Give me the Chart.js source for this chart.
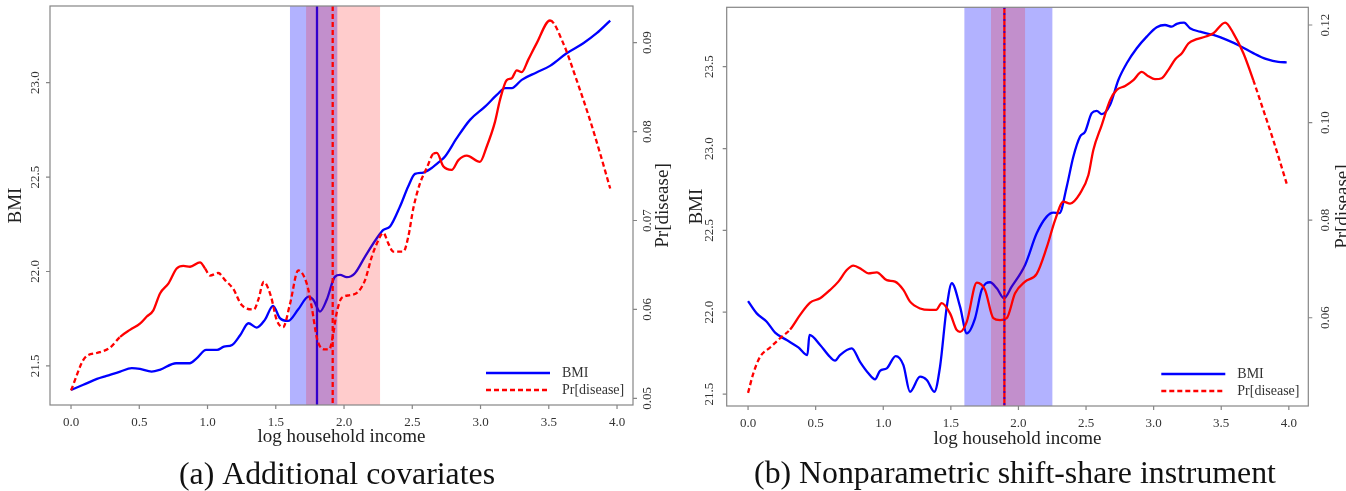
<!DOCTYPE html>
<html>
<head>
<meta charset="utf-8">
<script src="https://cdn.jsdelivr.net/npm/chart.js@4.4.1/dist/chart.umd.min.js"></script>
<style>
  html, body { margin: 0; padding: 0; background: #fff; }
  #wrap { position: relative; width: 1346px; height: 491px; overflow: hidden; }
  .panel { position: absolute; top: 0; width: 673px; height: 491px; }
</style>
</head>
<body>
<div id="wrap">
  <div class="panel" style="left:0"><canvas id="chartA" width="673" height="491"></canvas></div>
  <div class="panel" style="left:673px"><canvas id="chartB" width="673" height="491"></canvas></div>
</div>
<script>
// — tick labels —
const xTicks = [0, 0.5, 1, 1.5, 2, 2.5, 3, 3.5, 4];
const bmiTicksA = [21.5, 22, 22.5, 23];
const prTicksA = [0.05, 0.06, 0.07, 0.08, 0.09];
const bmiTicksB = [21.5, 22, 22.5, 23, 23.5];
const prTicksB = [0.06, 0.08, 0.10, 0.12];

// — (a) additional covariates —
const bmiIncomeA = [0, 0.09, 0.19, 0.26, 0.36, 0.445, 0.505, 0.59, 0.65, 0.77, 0.87, 0.92, 0.99, 1.07, 1.12, 1.18,
  1.24, 1.30, 1.36, 1.42, 1.48, 1.53, 1.59, 1.665, 1.74, 1.775, 1.824, 1.873, 1.934, 1.971, 2.02, 2.08, 2.154,
  2.24, 2.288, 2.337, 2.41, 2.47, 2.52, 2.58, 2.64, 2.70, 2.74, 2.826, 2.923, 3.033, 3.119, 3.18, 3.229, 3.302,
  3.41, 3.509, 3.631, 3.753, 3.851, 3.95];
const bmiA = [21.373, 21.400, 21.431, 21.447, 21.470, 21.488, 21.484, 21.470, 21.479, 21.514, 21.514, 21.540,
  21.585, 21.585, 21.602, 21.611, 21.664, 21.726, 21.703, 21.744, 21.818, 21.753, 21.738, 21.800, 21.867, 21.850,
  21.788, 21.850, 21.973, 21.982, 21.970, 21.991, 22.079, 22.176, 22.220, 22.238, 22.344, 22.450, 22.517, 22.524,
  22.547, 22.582, 22.609, 22.706, 22.803, 22.873, 22.935, 22.971, 22.971, 23.015, 23.054, 23.089, 23.156, 23.209,
  23.262, 23.329];
const prIncomeA = [0, 0.103, 0.188, 0.286, 0.359, 0.432, 0.505, 0.555, 0.603, 0.652, 0.713, 0.774, 0.823, 0.872,
  0.945, 0.982, 1.018, 1.079, 1.128, 1.189, 1.25, 1.34, 1.372, 1.412, 1.464, 1.507, 1.553, 1.604, 1.665, 1.727,
  1.763, 1.804, 1.861, 1.892, 1.917, 1.946, 1.983, 2.044, 2.105, 2.154, 2.203, 2.24, 2.288, 2.325, 2.361, 2.435,
  2.471, 2.508, 2.557, 2.606, 2.654, 2.68, 2.727, 2.789, 2.838, 2.899, 2.996, 3.045, 3.106, 3.143, 3.192, 3.229,
  3.265, 3.302, 3.35, 3.41, 3.509, 3.607, 3.704, 3.802, 3.875, 3.95];
const prA = [0.0509, 0.0546, 0.0551, 0.0557, 0.0569, 0.0577, 0.0584, 0.0592, 0.0599, 0.0618, 0.0629, 0.0646,
  0.0649, 0.0648, 0.0653, 0.0646, 0.0638, 0.0641, 0.0633, 0.0623, 0.0605, 0.0600, 0.0611, 0.0631, 0.0615, 0.0588,
  0.0580, 0.0606, 0.0644, 0.0629, 0.0603, 0.0566, 0.0555, 0.0555, 0.0569, 0.0596, 0.0613, 0.0616, 0.0620, 0.0633,
  0.0659, 0.0674, 0.0686, 0.0674, 0.0665, 0.0665, 0.0682, 0.0714, 0.0742, 0.0759, 0.0775, 0.0776, 0.0761, 0.0757,
  0.0768, 0.0773, 0.0766, 0.0783, 0.0811, 0.0836, 0.0858, 0.0860, 0.0869, 0.0867, 0.0881, 0.0899, 0.0925, 0.0899,
  0.0858, 0.0813, 0.0776, 0.0736];
const bmiBandA = [1.604, 1.951];
const prBandA = [1.722, 2.264];
const bmiCutA = 1.802;
const prCutA = 1.917;

// — (b) nonparametric shift-share instrument —
const bmiIncomeB = [0, 0.064, 0.138, 0.20, 0.286, 0.372, 0.439, 0.454, 0.533, 0.594, 0.644, 0.68, 0.767, 0.828,
  0.89, 0.939, 0.976, 1.026, 1.092, 1.149, 1.198, 1.272, 1.322, 1.378, 1.42, 1.47, 1.507, 1.568, 1.618, 1.679,
  1.728, 1.79, 1.84, 1.893, 1.95, 2.049, 2.135, 2.209, 2.258, 2.303, 2.357, 2.406, 2.456, 2.493, 2.542, 2.579,
  2.616, 2.678, 2.739, 2.801, 2.875, 2.949, 3.023, 3.084, 3.134, 3.171, 3.225, 3.269, 3.343, 3.442, 3.541, 3.639,
  3.737, 3.836, 3.922, 3.984];
const bmiB = [22.068, 21.993, 21.942, 21.875, 21.830, 21.785, 21.738, 21.861, 21.800, 21.738, 21.704, 21.738,
  21.779, 21.697, 21.627, 21.590, 21.642, 21.657, 21.732, 21.677, 21.514, 21.606, 21.586, 21.514, 21.667, 22.034,
  22.177, 22.034, 21.871, 21.963, 22.136, 22.183, 22.146, 22.085, 22.156, 22.289, 22.482, 22.584, 22.608, 22.605,
  22.767, 22.950, 23.073, 23.103, 23.216, 23.230, 23.210, 23.267, 23.419, 23.521, 23.613, 23.684, 23.741, 23.755,
  23.745, 23.762, 23.769, 23.735, 23.714, 23.694, 23.664, 23.627, 23.583, 23.546, 23.529, 23.527];
const prIncomeB = [0, 0.039, 0.089, 0.163, 0.237, 0.311, 0.385, 0.459, 0.533, 0.607, 0.668, 0.73, 0.779, 0.841,
  0.89, 0.952, 1.026, 1.087, 1.149, 1.198, 1.272, 1.346, 1.391, 1.432, 1.494, 1.543, 1.568, 1.618, 1.692, 1.753,
  1.814, 1.864, 1.913, 1.975, 2.049, 2.135, 2.209, 2.271, 2.332, 2.382, 2.456, 2.517, 2.554, 2.616, 2.678, 2.727,
  2.789, 2.85, 2.912, 2.961, 3.01, 3.06, 3.109, 3.16, 3.209, 3.257, 3.319, 3.38, 3.442, 3.529, 3.59, 3.664, 3.737,
  3.811, 3.885, 3.984];
const prB = [0.0446, 0.0486, 0.0520, 0.0539, 0.0558, 0.0576, 0.0606, 0.0631, 0.0640, 0.0657, 0.0674, 0.0698,
  0.0707, 0.0699, 0.0691, 0.0693, 0.0677, 0.0674, 0.0657, 0.0633, 0.0619, 0.0616, 0.0616, 0.0630, 0.0609, 0.0575,
  0.0571, 0.0592, 0.0672, 0.0657, 0.0599, 0.0595, 0.0599, 0.0650, 0.0674, 0.0690, 0.0744, 0.0800, 0.0838, 0.0834,
  0.0855, 0.0892, 0.0944, 0.0995, 0.1046, 0.1067, 0.1075, 0.1087, 0.1104, 0.1095, 0.1089, 0.1091, 0.1108, 0.1130,
  0.1142, 0.1162, 0.1171, 0.1176, 0.1183, 0.1205, 0.1183, 0.1142, 0.1087, 0.1026, 0.0964, 0.0875];
const bmiBandB = [1.600, 2.251];
const prBandB = [1.797, 2.049];
const bmiCutB = 1.896;
const prCutB = 1.896;

const SERIF = '"Liberation Serif", "Times New Roman", serif';
const BLUE = '#0000ff', RED = '#ff0000';
const DASH = [5, 3];

function pts(xs, ys) { return xs.map((x, i) => ({ x: x, y: ys[i] })); }

function vline(ctx, a, xs, l) {
  const x = xs.getPixelForValue(l.at);
  ctx.save();
  ctx.strokeStyle = l.color;
  ctx.lineWidth = l.width;
  ctx.setLineDash(l.dash || []);
  ctx.beginPath();
  ctx.moveTo(x, a.top);
  ctx.lineTo(x, a.bottom);
  ctx.stroke();
  ctx.restore();
}

function vtext(ctx, txt, x, y) {
  ctx.save();
  ctx.translate(x, y);
  ctx.rotate(-Math.PI / 2);
  ctx.fillText(txt, 0, 0);
  ctx.restore();
}

// bands, cut lines, frame, axes text, legend, caption
function makeDecor(cfg) {
  return {
    id: 'decor',
    afterDatasetDraw(chart, args) {
      if (chart.data.datasets[args.index].label !== 'BMI') return;
      const ctx = chart.ctx, a = chart.chartArea, xs = chart.scales.x;
      cfg.lines.filter(l => l.under).forEach(l => vline(ctx, a, xs, l));
      ctx.save();
      cfg.bands.forEach(b => {
        const x0 = xs.getPixelForValue(b.range[0]), x1 = xs.getPixelForValue(b.range[1]);
        ctx.fillStyle = b.color;
        ctx.fillRect(x0, a.top, x1 - x0, a.bottom - a.top);
      });
      ctx.restore();
    },
    afterDatasetsDraw(chart) {
      const ctx = chart.ctx, a = chart.chartArea, xs = chart.scales.x;
      cfg.lines.filter(l => !l.under).forEach(l => vline(ctx, a, xs, l));
    },
    afterDraw(chart) {
      const ctx = chart.ctx, a = chart.chartArea, s = chart.scales;
      const midY = (a.top + a.bottom) / 2, midX = (a.left + a.right) / 2;
      ctx.save();
      // frame
      ctx.strokeStyle = '#858585';
      ctx.lineWidth = 1.2;
      ctx.strokeRect(a.left, a.top, a.right - a.left, a.bottom - a.top);

      // tick marks
      ctx.beginPath();
      xTicks.forEach(v => { const p = s.x.getPixelForValue(v); ctx.moveTo(p, a.bottom); ctx.lineTo(p, a.bottom + 4); });
      cfg.bmiTicks.forEach(v => { const p = s.y.getPixelForValue(v); ctx.moveTo(a.left, p); ctx.lineTo(a.left - 4, p); });
      cfg.prTicks.forEach(v => { const p = s.y1.getPixelForValue(v); ctx.moveTo(a.right, p); ctx.lineTo(a.right + 4, p); });
      ctx.stroke();

      // tick labels
      ctx.fillStyle = '#333';
      ctx.font = '13px ' + SERIF;
      ctx.textAlign = 'center';
      ctx.textBaseline = 'middle';
      xTicks.forEach(v => ctx.fillText(v.toFixed(1), s.x.getPixelForValue(v), a.bottom + 18));
      cfg.bmiTicks.forEach(v => vtext(ctx, v.toFixed(1), a.left - cfg.leftOff, s.y.getPixelForValue(v)));
      cfg.prTicks.forEach(v => vtext(ctx, v.toFixed(2), a.right + cfg.rightOff, s.y1.getPixelForValue(v)));

      // axis titles
      ctx.fillStyle = '#222';
      ctx.font = '19px ' + SERIF;
      ctx.fillText('log household income', midX, a.bottom + cfg.xTitleOff);
      vtext(ctx, 'BMI', a.left - cfg.bmiTitleOff, midY);
      vtext(ctx, 'Pr[disease]', a.right + cfg.prTitleOff, midY);

      // legend
      const ds = chart.data.datasets;
      const lx = a.right - 147, tx = a.right - 71;
      [[ds[0], a.bottom - 32], [ds[1], a.bottom - 15]].forEach(([d, y]) => {
        ctx.save();
        ctx.strokeStyle = d.borderColor;
        ctx.lineWidth = 2.3;
        ctx.setLineDash(d.borderDash || []);
        ctx.beginPath();
        ctx.moveTo(lx, y);
        ctx.lineTo(lx + 64, y);
        ctx.stroke();
        ctx.restore();
      });
      ctx.fillStyle = '#333';
      ctx.font = '14px ' + SERIF;
      ctx.textAlign = 'left';
      ctx.fillText(ds[0].label, tx, a.bottom - 32);
      ctx.fillText(ds[1].label, tx, a.bottom - 15);

      // caption
      ctx.fillStyle = '#111';
      ctx.font = '31.8px ' + SERIF;
      ctx.textAlign = 'center';
      ctx.textBaseline = 'alphabetic';
      ctx.fillText(cfg.caption, cfg.captionX, cfg.captionY);
      ctx.restore();
    }
  };
}

function makeChart(id, p) {
  return new Chart(document.getElementById(id), {
    type: 'line',
    data: {
      datasets: [{
        label: 'BMI',
        data: pts(p.bmiX, p.bmi),
        yAxisID: 'y',
        borderColor: BLUE,
        borderWidth: 2.3,
        pointRadius: 0,
        cubicInterpolationMode: 'monotone',
        order: 2
      }, {
        label: 'Pr[disease]',
        data: pts(p.prX, p.pr),
        yAxisID: 'y1',
        borderColor: RED,
        borderWidth: 2.3,
        borderDash: DASH,
        pointRadius: 0,
        cubicInterpolationMode: 'monotone',
        order: 1,
        segment: {
          borderDash: c => p.solid.some(r => c.p0.parsed.x >= r[0] && c.p0.parsed.x < r[1]) ? [] : undefined
        }
      }]
    },
    options: {
      responsive: false,
      animation: false,
      events: [],
      layout: { autoPadding: false, padding: p.pad },
      plugins: { legend: { display: false }, tooltip: { enabled: false } },
      scales: {
        x: { type: 'linear', display: false, min: p.xRange[0], max: p.xRange[1] },
        y: { type: 'linear', display: false, min: p.bmiRange[0], max: p.bmiRange[1] },
        y1: { type: 'linear', display: false, position: 'right', min: p.prRange[0], max: p.prRange[1] }
      }
    },
    plugins: [makeDecor(p.decor)]
  });
}

makeChart('chartA', {
  bmiX: bmiIncomeA, bmi: bmiA, prX: prIncomeA, pr: prA,
  solid: [[0.3, 0.95], [2.62, 3.45]],
  pad: { left: 50, right: 40, top: 6, bottom: 86 },
  xRange: [-0.154, 4.117], bmiRange: [21.293, 23.406], prRange: [0.04925, 0.09413],
  decor: {
    bands: [{ range: bmiBandA, color: 'rgba(0,0,255,0.3)' }, { range: prBandA, color: 'rgba(255,0,0,0.2)' }],
    lines: [
      { at: bmiCutA, color: BLUE, width: 2.3, under: true },
      { at: prCutA, color: RED, width: 2.3, dash: DASH }
    ],
    bmiTicks: bmiTicksA, prTicks: prTicksA,
    leftOff: 14, rightOff: 15, bmiTitleOff: 34, prTitleOff: 30, xTitleOff: 32,
    caption: '(a) Additional covariates', captionX: 337, captionY: 484
  }
});

makeChart('chartB', {
  bmiX: bmiIncomeB, bmi: bmiB, prX: prIncomeB, pr: prB,
  solid: [[0.3, 3.68]],
  pad: { left: 53.7, right: 37.7, top: 7.3, bottom: 85 },
  xRange: [-0.158, 4.144], bmiRange: [21.427, 23.863], prRange: [0.04191, 0.12363],
  decor: {
    bands: [{ range: bmiBandB, color: 'rgba(0,0,255,0.3)' }, { range: prBandB, color: 'rgba(255,0,0,0.2)' }],
    lines: [
      { at: prCutB, color: RED, width: 2.3 },
      { at: bmiCutB, color: BLUE, width: 2, dash: [1.5, 4.5] }
    ],
    bmiTicks: bmiTicksB, prTicks: prTicksB,
    leftOff: 17, rightOff: 17, bmiTitleOff: 30, prTitleOff: 35, xTitleOff: 33,
    caption: '(b) Nonparametric shift-share instrument', captionX: 342, captionY: 483
  }
});
</script>
</body>
</html>
